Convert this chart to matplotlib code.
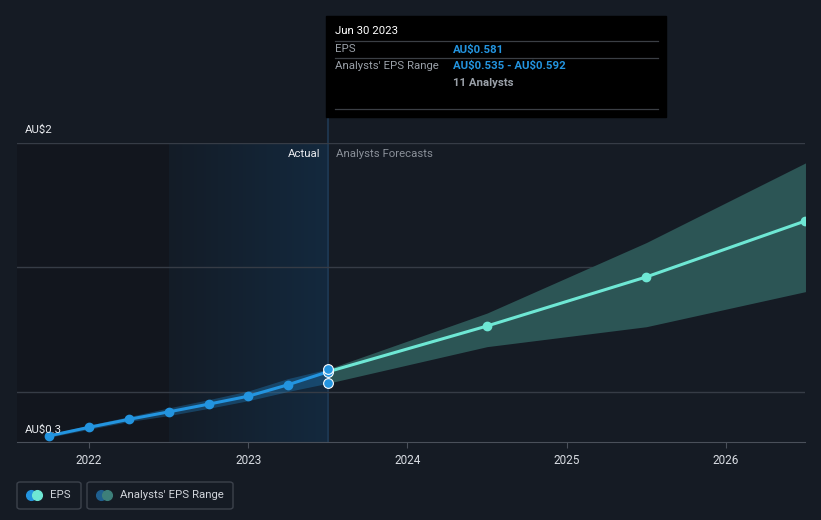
import numpy as np
import matplotlib.pyplot as plt
from matplotlib.patches import Rectangle, FancyBboxPatch
from matplotlib.lines import Line2D
from matplotlib.colors import LinearSegmentedColormap

plt.rcParams['font.family'] = ['Roboto', 'DejaVu Sans']
plt.rcParams['text.parse_math'] = False

# actual EPS (quarterly, decimal years)
act_x = [2021.75, 2022.0, 2022.25, 2022.5, 2022.75, 2023.0, 2023.25, 2023.5]
act_eps = [0.324, 0.358, 0.390, 0.420, 0.451, 0.483, 0.529, 0.581]
act_low = [0.318, 0.350, 0.381, 0.405, 0.434, 0.465, 0.502, 0.535]
act_high = [0.330, 0.367, 0.401, 0.436, 0.469, 0.504, 0.554, 0.592]

# analysts forecasts
fc_x = [2023.5, 2024.5, 2025.5, 2026.5]
fc_eps = [0.581, 0.765, 0.962, 1.187]
fc_low = [0.535, 0.682, 0.762, 0.903]
fc_high = [0.592, 0.817, 1.100, 1.420]

years = [2022, 2023, 2024, 2025, 2026]

W, H = 821, 520
BG = '#151b24'
BLUE = '#2394df'
TEAL = '#6ee7d4'


def fx(px):
    return px / W


def fy(py):
    return 1 - py / H


fig = plt.figure(figsize=(W / 100, H / 100), dpi=100, facecolor=BG)
ax = fig.add_axes([fx(17), fy(442), fx(805) - fx(17), fy(143) - fy(442)])
ax.set_facecolor(BG)
x0, x1 = 2021.547, 2026.497
ax.set_xlim(x0, x1)
ax.set_ylim(0.299, 1.5)

# background regions
ax.axvspan(x0, 2022.5, color='#12161e', zorder=0, lw=0)
grad = np.linspace(0, 1, 256).reshape(1, -1)
cm = LinearSegmentedColormap.from_list('hl', ['#141c27', '#13293e'])
ax.imshow(grad, cmap=cm, extent=[2022.5, 2023.5, 0.299, 1.5], aspect='auto', zorder=0.5)
ax.add_line(Line2D([2023.5, 2023.5], [0.299, 1.5 + 26 / 249.0], color='#1f3a55', lw=1.2,
                   clip_on=False, zorder=1))

for g in [0.5, 1.0, 1.5]:
    ax.axhline(g, color='#363c46', lw=1, zorder=1)

# bands
ax.fill_between(act_x, act_low, act_high, color=BLUE, alpha=0.3, lw=0, zorder=2)
ax.fill_between(fc_x, fc_low, fc_high, color='#2c5555', lw=0, zorder=2)

# lines
ax.plot(fc_x, fc_eps, color=TEAL, lw=2.2, marker='o', ms=6, zorder=4)
ax.plot(act_x, act_eps, color=BLUE, lw=2.2, marker='o', ms=6, zorder=5)
ax.plot([2023.5] * 3, [act_low[-1], act_eps[-1], act_high[-1]], ls='none', marker='o', ms=7,
        mfc=BLUE, mec='white', mew=0.8, zorder=6, clip_on=False)

for s in ['top', 'right', 'left']:
    ax.spines[s].set_visible(False)
ax.spines['bottom'].set_color('#4a505a')
ax.set_yticks([])
ax.set_xticks(years)
ax.set_xticklabels([str(y) for y in years])
ax.tick_params(axis='x', colors='#4a505a', labelcolor='#d8dce2', labelsize=8.5, length=4, pad=5)

ax.text(2023.45, 1.456, 'Actual', color='#e8eaee', fontsize=8.2, ha='right', va='center')
ax.text(2023.55, 1.456, 'Analysts Forecasts', color='#8a9099', fontsize=8.2, ha='left', va='center')

fig.text(fx(25), fy(130), 'AU$2', color='#e8eaee', fontsize=8.2, va='center')
fig.text(fx(25), fy(430), 'AU$0.3', color='#e8eaee', fontsize=8.2, va='center', zorder=3)

# tooltip
fig.patches.append(Rectangle((fx(326), fy(117)), fx(666) - fx(326), fy(16) - fy(117),
                             transform=fig.transFigure, color='#000000', zorder=10))
for ly in [41, 58, 109]:
    fig.add_artist(Line2D([fx(335), fx(658)], [fy(ly), fy(ly)], color='#3b3f45', lw=0.9, zorder=11))
fig.text(fx(335), fy(31), 'Jun 30 2023', color='white', fontsize=8.2, va='center', zorder=12)
fig.text(fx(335), fy(49.5), 'EPS', color='#9aa0a8', fontsize=8.2, va='center', zorder=12)
fig.text(fx(453), fy(49.5), 'AU$0.581', color=BLUE, fontsize=8.2, va='center', weight='bold', zorder=12)
fig.text(fx(335), fy(66), "Analysts' EPS Range", color='#9aa0a8', fontsize=8.2, va='center', zorder=12)
fig.text(fx(453), fy(66), 'AU$0.535 - AU$0.592', color=BLUE, fontsize=8.2, va='center', weight='bold', zorder=12)
fig.text(fx(453), fy(83), '11 Analysts', color='#9aa0a8', fontsize=8.2, va='center', weight='bold', zorder=12)

# legend
for (l, r) in [(17, 81), (87, 233)]:
    fig.patches.append(FancyBboxPatch((fx(l), fy(509)), fx(r) - fx(l), fy(482) - fy(509),
                                      boxstyle='round,pad=0,rounding_size=0.004',
                                      transform=fig.transFigure, fc='none', ec='#3c424c', lw=1))
for cx, c1, c2 in [(31, BLUE, TEAL), (101, '#1f5f8f', '#3d7f7a')]:
    fig.add_artist(Line2D([fx(cx)], [fy(494.5)], marker='o', ms=7, color=c1, ls='none'))
    fig.add_artist(Line2D([fx(cx + 6)], [fy(494.5)], marker='o', ms=7, color=c2, ls='none'))
fig.text(fx(50), fy(494.5), 'EPS', color='#d0d4da', fontsize=8.2, va='center')
fig.text(fx(120), fy(494.5), "Analysts' EPS Range", color='#d0d4da', fontsize=8.2, va='center')

fig.savefig('out.png', dpi=100, facecolor=BG)
